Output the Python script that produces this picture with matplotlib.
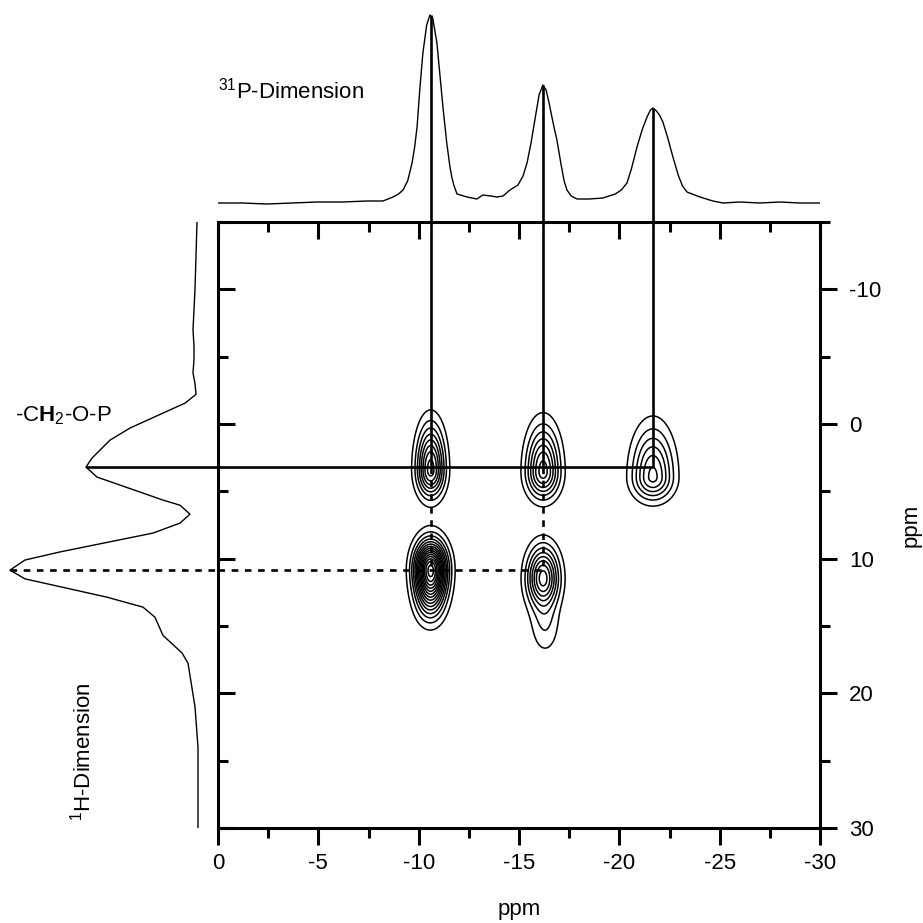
import numpy as np
import matplotlib
matplotlib.use("Agg")
import matplotlib.pyplot as plt

plt.rcParams["font.family"] = ["Liberation Sans", "DejaVu Sans"]
plt.rcParams["mathtext.fontset"] = "custom"
plt.rcParams["mathtext.rm"] = "Liberation Sans"
plt.rcParams["mathtext.bf"] = "Liberation Sans:bold"

# ---- 31P projection (top trace): chemical shift (ppm) vs intensity (a.u.)
p_shift = [0.0, -1.2, -2.44, -3.7, -4.93, -6.2, -7.42, -8.22, -8.72, -9.0, -9.22,
           -9.45, -9.67, -9.8, -9.92, -10.05, -10.21, -10.4, -10.56, -10.7,
           -10.91, -11.05, -11.21, -11.4, -11.56, -11.65, -11.75, -11.91, -12.41,
           -12.90, -13.20, -13.6, -13.9, -14.20, -14.55, -14.95, -15.2, -15.40,
           -15.6, -15.79, -16.0, -16.19, -16.35, -16.5, -16.7, -16.89, -17.1,
           -17.25, -17.39, -17.6, -17.89, -18.5, -19.18, -19.8, -20.1, -20.38,
           -20.6, -20.88, -21.15, -21.38, -21.55, -21.67, -21.85, -22.0, -22.17,
           -22.4, -22.67, -22.95, -23.15, -23.37, -24.02, -24.66, -25.16, -26.0,
           -27.0, -28.0, -29.0, -30.0]
p_int = [0, 0, -1, 0, 1, 1, 2, 2, 6, 9, 13,
         22, 40, 56, 76, 112, 150, 178, 188, 185,
         160, 130, 96, 60, 36, 26, 18, 9, 6,
         4, 8, 7, 6, 7, 13, 18, 27, 40,
         60, 83, 108, 118, 113, 100, 80, 63, 38,
         22, 13, 7, 4, 4, 5, 9, 13, 20,
         34, 56, 74, 86, 93, 95, 92, 88, 81,
         66, 46, 27, 17, 11, 6, 2, 0, 1,
         0, 1, 0, 0]

# ---- 1H projection (left trace): chemical shift (ppm) vs intensity (a.u.)
h_shift = [-15.0, -12.5, -10.0, -8.5, -7.0, -5.8, -4.8, -3.8, -3.0, -2.2, -1.55,
           0.3, 1.2, 2.53, 3.2, 3.94, 5.65, 6.03, 6.7, 7.36, 8.1, 9.5, 10.1,
           10.85, 11.5, 12.86, 13.6, 14.35, 15.7, 17.0, 17.76, 21.0, 24.0, 30.0]
h_int = [1, 2, 3, 4, 5, 4, 4, 5, 3, 2, 13,
         68, 88, 106, 112, 101, 35, 18, 8, 18, 45, 138, 173,
         188, 173, 91, 55, 43, 35, 16, 10, 3, 0, 0]

# ---- 2D cross peaks: 31P shift, 1H shift, amplitude, widths (ppm)
peak_p = [-10.6, -16.2, -21.67, -10.6, -10.55, -16.2, -16.3]
peak_h = [3.4, 3.55, 3.95, 10.85, 13.6, 11.45, 15.0]
peak_amp = [8.5, 7.5, 6.3, 15.5, 1.3, 8.5, 1.8]
peak_wp = [0.46, 0.55, 0.68, 0.52, 0.48, 0.53, 0.5]
peak_wh_up = [2.15, 2.19, 2.37, 1.40, 1.0, 1.55, 1.3]
peak_wh_down = [1.33, 1.29, 1.12, 1.75, 1.1, 1.45, 1.5]
contour_levels = [1, 2, 3, 4, 5, 6, 7, 8, 9, 10, 11, 12, 13, 14, 15]

# Correlation markers: 31P peak positions and 1H peak positions
corr_p = [-10.6, -16.2, -21.67]
corr_p_top = [188, 118, 95]
h_ch2 = 3.2
h_ch2_int = 112
h_oh = 10.85
h_oh_int = 188
corr_p_dashed = [-10.6, -16.2]

W = H = 923
fig = plt.figure(figsize=(W / 100, H / 100), dpi=100)

def frac(x0, y0, x1, y1):
    return [x0 / W, 1 - y1 / H, (x1 - x0) / W, (y1 - y0) / H]

ax = fig.add_axes(frac(218, 222, 820, 828))
ax_top = fig.add_axes(frac(218, 0, 820, 222))
ax_left = fig.add_axes(frac(0, 222, 218, 828))

# ---- main 2D panel
pp = np.linspace(-30, 0, 601)
hh = np.linspace(-15, 30, 901)
PP, HH = np.meshgrid(pp, hh)
Z = np.zeros_like(PP)
for p0, h0, a, wp, wu, wd in zip(peak_p, peak_h, peak_amp, peak_wp, peak_wh_up, peak_wh_down):
    wh = np.where(HH < h0, wu, wd)
    Z += a * np.exp(-0.5 * (((PP - p0) / wp) ** 2 + ((HH - h0) / wh) ** 2))
ax.contour(PP, HH, Z, levels=contour_levels, colors="black", linewidths=1.1)

ax.set_xlim(0, -30)
ax.set_ylim(30, -15)
lw_sp = 2.2
for s in ax.spines.values():
    s.set_linewidth(lw_sp)
ax.set_xticks([0, -5, -10, -15, -20, -25, -30])
ax.set_xticks(np.arange(-2.5, -30, -5), minor=True)
ax.set_yticks([-10, 0, 10, 20, 30])
ax.set_yticks([-15, -5, 5, 15, 25], minor=True)
ax.tick_params(axis="x", which="both", bottom=True, top=True, direction="out",
               labelsize=16, pad=6, width=lw_sp)
ax.tick_params(axis="y", which="both", left=True, right=True, labelleft=False,
               labelright=True, labelsize=16, pad=9, width=lw_sp)
ax.tick_params(which="major", length=12)
ax.tick_params(which="minor", length=7)
ax.set_xticklabels(["0", "-5", "-10", "-15", "-20", "-25", "-30"])
ax.set_yticklabels(["-10", "0", "10", "20", "30"])
ax.set_xlabel("ppm", fontsize=16, labelpad=18)
ax.yaxis.set_label_position("right")
ax.set_ylabel("ppm", fontsize=16, rotation=90, labelpad=14)

# inward ticks on left and top, outward on right and bottom
for t in ax.xaxis.get_major_ticks() + ax.xaxis.get_minor_ticks():
    t.tick2line.set_marker(matplotlib.lines.TICKDOWN)
for t in ax.yaxis.get_major_ticks() + ax.yaxis.get_minor_ticks():
    t.tick1line.set_marker(matplotlib.lines.TICKRIGHT)

# correlation lines
lw_c = 1.9
for p in corr_p:
    ax.plot([p, p], [-15, h_ch2], color="black", lw=lw_c, solid_capstyle="butt",
            clip_on=False, zorder=5)
ax.plot([0, corr_p[-1]], [h_ch2, h_ch2], color="black", lw=lw_c, zorder=5,
        clip_on=False, solid_capstyle="butt")
ax.plot([0, corr_p_dashed[-1]], [h_oh, h_oh], color="black", lw=lw_c, zorder=5,
        linestyle=(0, (2.5, 2.5)), clip_on=False)
for p in corr_p_dashed:
    ax.plot([p, p], [h_ch2, h_oh], color="black", lw=lw_c, zorder=5,
            linestyle=(0, (2.5, 2.5)))

# ---- top 31P projection
ax_top.plot(p_shift, p_int, color="black", lw=1.0)
for p, top in zip(corr_p, corr_p_top):
    ax_top.plot([p, p], [-19, top], color="black", lw=lw_c, solid_capstyle="butt")
ax_top.set_xlim(0, -30)
ax_top.set_ylim(-19, 203)
ax_top.axis("off")
ax_top.text(0.0, 104, r"$^{31}$P-Dimension", fontsize=16, ha="left", va="baseline")

# ---- left 1H projection
ax_left.plot(h_int, h_shift, color="black", lw=1.0)
ax_left.plot([h_ch2_int, -20], [h_ch2, h_ch2], color="black", lw=lw_c,
             solid_capstyle="butt")
ax_left.plot([h_oh_int, -20], [h_oh, h_oh], color="black", lw=lw_c,
             linestyle=(0, (2.5, 2.5)))
ax_left.set_xlim(198, -20)
ax_left.set_ylim(30, -15)
ax_left.axis("off")
ax_left.text(183, -0.2, r"-C$\mathbf{H}_\mathrm{2}$-O-P", fontsize=16,
             ha="left", va="baseline")
ax_left.text(115, 24.3, r"$^{1}$H-Dimension", fontsize=16, rotation=90,
             ha="center", va="center")

fig.savefig("out.png", dpi=100)
